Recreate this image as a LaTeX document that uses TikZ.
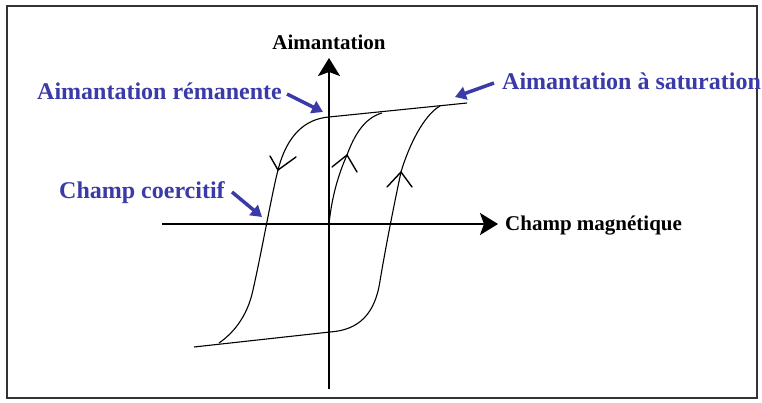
\documentclass[tikz,border=0pt]{standalone}
\usepackage{fontspec}
\setmainfont{Liberation Serif}
\usetikzlibrary{arrows.meta}
\definecolor{lblue}{RGB}{58,58,168}
\begin{document}
\begin{tikzpicture}[x=1pt,y=-1pt,
  axis/.style={line width=2.6pt,-{Stealth[length=18pt,width=22pt,inset=4pt]}},
  curve/.style={line width=1.1pt},
  barb/.style={line width=1.4pt,line cap=round,line join=miter},
  bluelbl/.style={text=lblue,font=\fontsize{24}{24}\selectfont\bfseries,inner sep=0pt},
  blacklbl/.style={font=\fontsize{21}{21}\selectfont\bfseries,inner sep=0pt},
  pointer/.style={draw=lblue,line width=3.5pt,-{Triangle[length=11pt,width=13pt]}}]
\useasboundingbox (0,0) rectangle (762,403);
\fill[white] (0,0) rectangle (762,403);
\draw[line width=1.2pt, black!80] (7,6) rectangle (757,398);
% axes
\coordinate (ybot) at (329,389);
\coordinate (ytop) at (329,58);
\coordinate (xl) at (162,224);
\coordinate (xr) at (498,224);
\draw[axis] (ybot) -- (ytop);
\draw[axis] (xl) -- (xr);
% loop
\coordinate (S) at (440,106);
\coordinate (R) at (329,117);
\coordinate (B) at (219,343);
\coordinate (Rm) at (330,332);
\coordinate (O) at (329,224);
\coordinate (E1) at (467,103);
\coordinate (E2) at (194,347);
\coordinate (J) at (382,113);
\coordinate (A1) at (278,170);
\coordinate (A2) at (347,155);
\coordinate (A3) at (401,172);
\draw[curve] (E1) -- (R) .. controls (305,119) and (287,135) .. (A1) .. controls (272,193) and (262,250) .. (253,290) .. controls (247,318) and (232,334) .. (B);
\draw[curve] (E2) -- (Rm) .. controls (359,330) and (375,314) .. (380,281) .. controls (386,245) and (395,200) .. (A3) .. controls (409,145) and (424,115) .. (S);
\draw[curve] (O) .. controls (332,195) and (339,173) .. (A2) .. controls (354,136) and (364,118) .. (J);
% flow arrows (open V heads)
\draw[barb] (270,156) -- (A1) -- (296,157);
\draw[barb] (332,167) -- (A2) -- (357,172);
\draw[barb] (387,187) -- (A3) -- (412,187);
% labels
\node[bluelbl,anchor=base west] (lrem) at (37,100) {Aimantation rémanente};
\node[bluelbl,anchor=base west] (lsat) at (502,90) {Aimantation à saturation};
\node[bluelbl,anchor=base west] (lcoe) at (59,199) {Champ coercitif};
\node[blacklbl,anchor=base] (lay) at (329,50) {Aimantation};
\node[blacklbl,anchor=base west] (lax) at (505,231) {Champ magnétique};
% pointers
\coordinate (p1s) at (287,94);
\coordinate (p1e) at (323,112);
\coordinate (p2s) at (494,83);
\coordinate (p2e) at (455,97);
\coordinate (p3s) at (232,192);
\coordinate (p3e) at (262,217);
\draw[pointer] (p1s) -- (p1e);
\draw[pointer] (p2s) -- (p2e);
\draw[pointer] (p3s) -- (p3e);
\end{tikzpicture}
\end{document}
